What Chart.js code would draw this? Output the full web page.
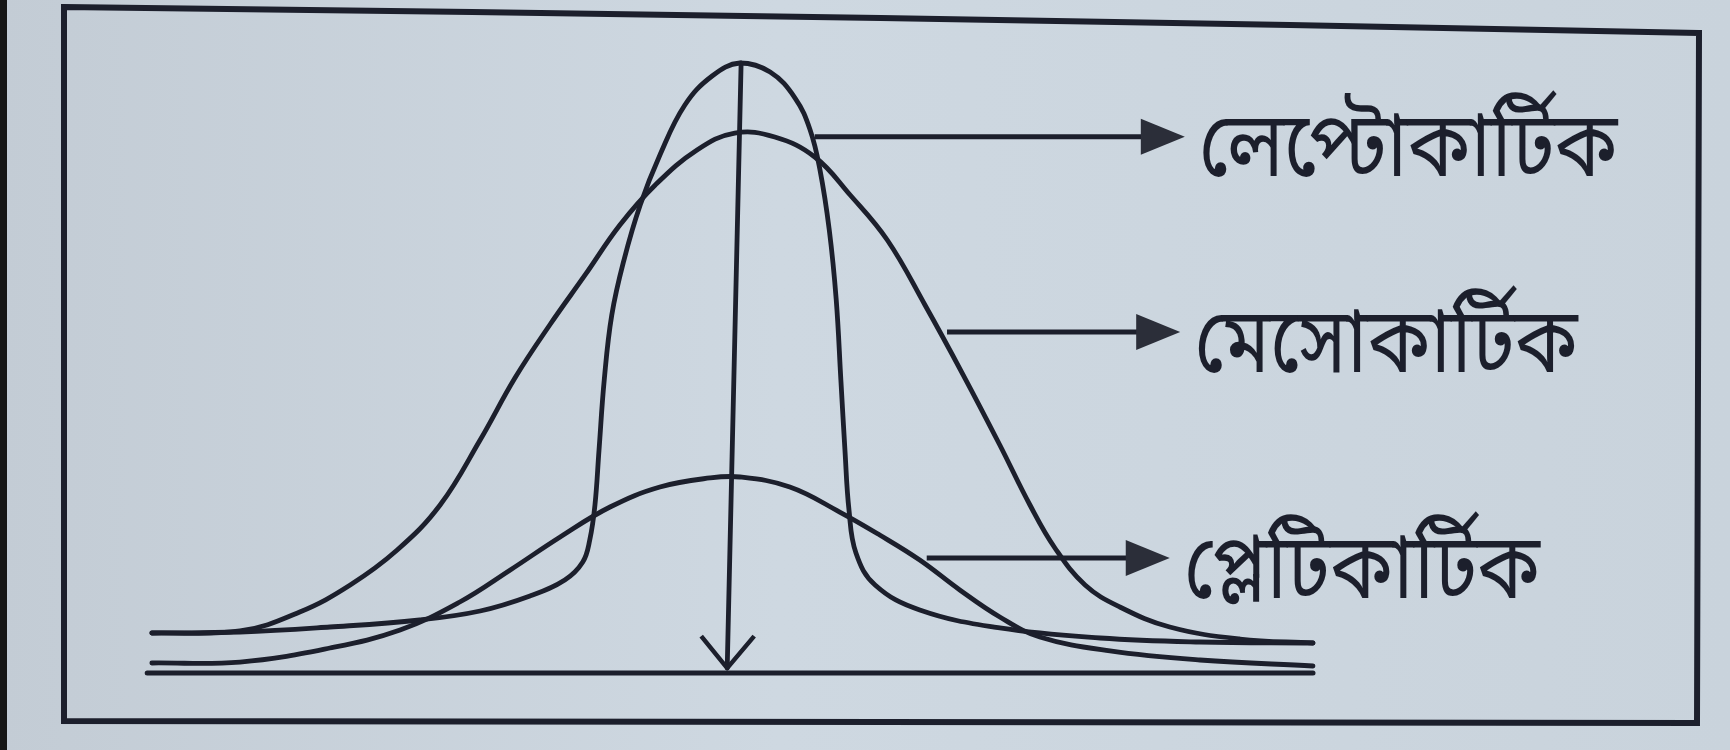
<!DOCTYPE html>
<html>
<head>
<meta charset="utf-8">
<script src="https://cdn.jsdelivr.net/npm/chart.js@4.4.1/dist/chart.umd.min.js"></script>
<style>
    html, body { margin: 0; padding: 0; background: #c9d3dc; }
    #wrap { width: 1730px; height: 750px; position: relative; }
</style>
</head>
<body>
<div id="wrap"><canvas id="kurtosisChart"></canvas></div>
<script>
// Curve data (x in spread units, y in relative height)
const leptoX = [-10.02, -8.5, -6.95, -5.4, -4.36, -3.5, -2.9, -2.59, -2.47, -2.38, -2.31, -2.22, -2.09, -1.88, -1.6, -1.26, -0.83, -0.36, 0.12, 0.64, 1.07, 1.33, 1.5, 1.66, 1.78, 1.86, 1.93, 2.0, 2.12, 2.45, 3.22, 4.6, 6.33, 8.05, 10.0];
const leptoY = [6.56, 6.72, 7.54, 8.69, 10.16, 12.62, 15.25, 18.2, 21.8, 27.54, 36.56, 48.03, 58.69, 67.7, 76.72, 84.92, 93.11, 97.87, 100, 98.52, 94.26, 89.02, 82.46, 72.62, 61.15, 48.03, 36.56, 26.72, 19.67, 14.43, 10.33, 7.38, 5.74, 5.08, 4.92];

const mesoX = [-10.02, -8.5, -7.47, -6.6, -5.79, -5.05, -4.36, -3.76, -3.16, -2.55, -1.95, -1.34, -0.62, 0.03, 0.72, 1.41, 2.02, 2.66, 3.31, 3.97, 4.6, 5.12, 5.55, 6.07, 6.67, 7.53, 8.74, 10.0];
const mesoY = [6.56, 6.89, 10.0, 14.43, 20.16, 27.54, 38.2, 48.36, 57.05, 65.25, 73.44, 80.0, 85.74, 88.52, 87.87, 84.59, 78.36, 70.98, 60.33, 48.85, 37.38, 27.54, 20.49, 14.43, 10.82, 7.54, 5.57, 4.92];

const platyX = [-10.02, -8.5, -6.95, -5.74, -4.71, -3.84, -2.98, -2.12, -1.26, -0.4, 0.12, 0.98, 1.84, 2.53, 3.22, 3.91, 4.6, 5.29, 6.5, 8.05, 10.0];
const platyY = [1.64, 1.8, 4.1, 7.05, 11.64, 16.89, 22.3, 27.21, 30.49, 31.97, 32.13, 30.49, 26.39, 22.62, 18.52, 13.61, 9.18, 5.9, 3.61, 2.13, 1.15];

// Labels and the arrows pointing at each curve
const curveNames = ['লেপ্টোকার্টিক', 'মেসোকার্টিক', 'প্লেটিকার্টিক'];
const arrowY = [87.9, 55.9, 18.85];
const arrowFrom = [1.41, 3.69, 3.34];
const arrowTip = [7.79, 7.71, 7.53];

// Mean line (top and bottom point) and the baseline
const meanLineX = [0.14, -0.1];
const meanLineY = [100, 0.8];
const baseX = [-10.1, 10.0];
const baseY = [0, 0];

const INK = '#1c1f2c';

function toPoints(xs, ys) {
    return xs.map((x, i) => ({ x: x, y: ys[i] }));
}

const paperPlugin = {
    id: 'paper',
    beforeDraw(chart) {
        const c = chart.ctx;
        c.save();
        const g = c.createLinearGradient(0, 0, 1730, 0);
        g.addColorStop(0, '#c3ccd5');
        g.addColorStop(0.45, '#ced8e1');
        g.addColorStop(1, '#c9d3dc');
        c.fillStyle = g;
        c.fillRect(0, 0, 1730, 750);
        c.fillStyle = '#161616';
        c.fillRect(0, 0, 7, 750);

        // frame
        c.strokeStyle = INK;
        c.lineWidth = 6;
        c.lineJoin = 'miter';
        c.beginPath();
        c.moveTo(64, 720);
        c.lineTo(64, 7);
        c.quadraticCurveTo(880, 16, 1699, 33);
        c.lineTo(1697, 723);
        c.lineTo(64, 721);
        c.closePath();
        c.stroke();
        c.restore();
    }
};

const labelPlugin = {
    id: 'curveLabels',
    afterDatasetsDraw(chart) {
        const c = chart.ctx;
        const xs = chart.scales.x;
        const ys = chart.scales.y;
        c.save();
        curveNames.forEach((name, i) => {
            const y = ys.getPixelForValue(arrowY[i]);
            const x0 = xs.getPixelForValue(arrowFrom[i]);
            const x1 = xs.getPixelForValue(arrowTip[i]);
            c.strokeStyle = INK;
            c.lineWidth = 5;
            c.beginPath();
            c.moveTo(x0, y);
            c.lineTo(x1 - 40, y);
            c.stroke();
            c.fillStyle = '#2b2e39';
            c.beginPath();
            c.moveTo(x1, y);
            c.lineTo(x1 - 44, y - 18);
            c.lineTo(x1 - 44, y + 18);
            c.closePath();
            c.fill();

            // tall, narrow lettering like the printed figure
            c.save();
            c.translate(x1 + 14, y + 22);
            c.scale(1, 1.18);
            c.fillStyle = INK;
            c.font = '78px "Noto Sans Bengali", "Noto Serif Bengali", "Lohit Bengali", "FreeSans", sans-serif';
            c.textBaseline = 'middle';
            c.textAlign = 'left';
            c.fillText(name, 0, 0);
            c.restore();
        });

        // open arrow head at the bottom of the mean line
        const tx = xs.getPixelForValue(meanLineX[1]);
        const ty = ys.getPixelForValue(meanLineY[1]);
        c.strokeStyle = INK;
        c.lineWidth = 4.5;
        c.lineJoin = 'round';
        c.beginPath();
        c.moveTo(tx - 26, ty - 32);
        c.lineTo(tx, ty);
        c.lineTo(tx + 27, ty - 32);
        c.stroke();
        c.restore();
    }
};

function curveDataset(label, xs, ys, width) {
    return {
        label: label,
        data: toPoints(xs, ys),
        borderColor: INK,
        borderWidth: width,
        borderCapStyle: 'round',
        borderJoinStyle: 'round',
        pointRadius: 0,
        tension: 0.4,
        fill: false,
        clip: false
    };
}

new Chart(document.getElementById('kurtosisChart'), {
    type: 'line',
    data: {
        datasets: [
            Object.assign(curveDataset('base', baseX, baseY, 5), { tension: 0 }),
            curveDataset('platy', platyX, platyY, 4.8),
            curveDataset('meso', mesoX, mesoY, 4.8),
            curveDataset('lepto', leptoX, leptoY, 4.8),
            Object.assign(curveDataset('mean', meanLineX, meanLineY, 4.8), { tension: 0 })
        ]
    },
    options: {
        responsive: true,
        maintainAspectRatio: false,
        animation: false,
        layout: { padding: { left: 153, right: 417, top: 63, bottom: 77 } },
        plugins: {
            legend: { display: false },
            tooltip: { enabled: false }
        },
        scales: {
            x: { type: 'linear', min: -10, max: 10, display: false },
            y: { type: 'linear', min: 0, max: 100, display: false }
        }
    },
    plugins: [paperPlugin, labelPlugin]
});
</script>
</body>
</html>
